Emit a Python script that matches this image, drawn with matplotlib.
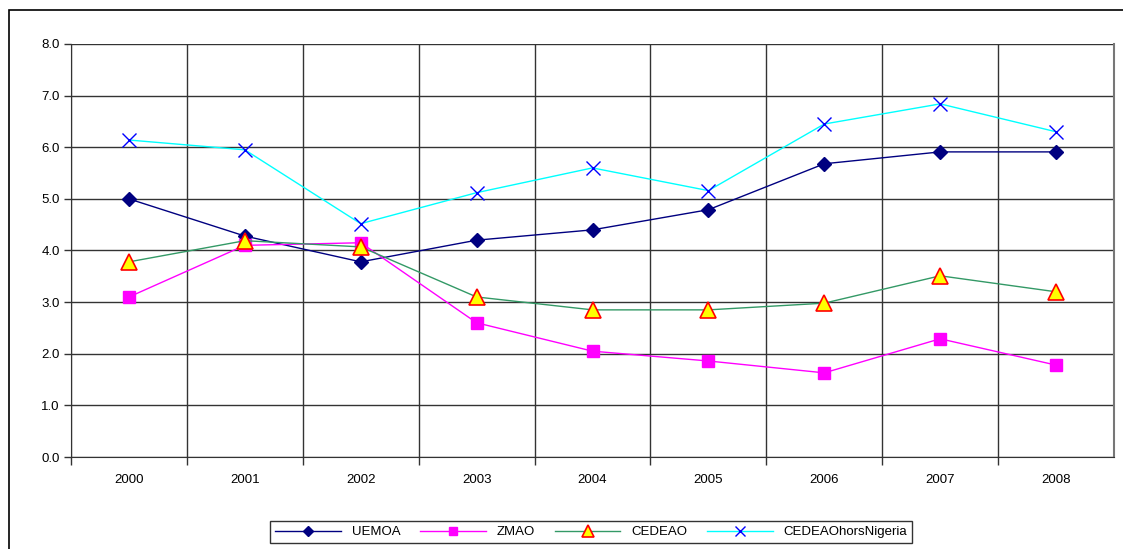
import matplotlib.pyplot as plt
from matplotlib.patches import Rectangle
import numpy as np

plt.rcParams['font.family'] = ['Liberation Sans', 'DejaVu Sans']

years = ['2000', '2001', '2002', '2003', '2004', '2005', '2006', '2007', '2008']
uemoa = [5.0, 4.28, 3.78, 4.2, 4.4, 4.79, 5.68, 5.91, 5.91]
zmao = [3.1, 4.1, 4.15, 2.6, 2.05, 1.86, 1.63, 2.29, 1.78]
cedeao = [3.78, 4.19, 4.07, 3.1, 2.85, 2.85, 2.98, 3.51, 3.2]
hors_nigeria = [6.14, 5.95, 4.52, 5.12, 5.6, 5.16, 6.45, 6.84, 6.3]

fig = plt.figure(figsize=(11.23, 5.49), dpi=100)
# outer chart frame (right and bottom edges fall outside the picture)
fig.patches.append(Rectangle((9/1123, -0.05), 1.1, 1 - 10/549 + 0.05,
                             transform=fig.transFigure, fill=False,
                             edgecolor='black', linewidth=1.2))

ax = fig.add_axes([71/1123, 1 - 457/549, (1114-71)/1123, (457-44)/549])
x = np.arange(len(years))

ax.plot(x, uemoa, color='#000080', lw=1, marker='D', ms=7,
        mfc='#000080', mec='#000080', label='UEMOA', zorder=5)
ax.plot(x, zmao, color='#FF00FF', lw=1, marker='s', ms=8,
        mfc='#FF00FF', mec='#FF00FF', label='ZMAO', zorder=5)
ax.plot(x, cedeao, color='#339966', lw=1, marker='^', ms=11,
        mfc='#FFFF00', mec='#FF0000', mew=1.2, label='CEDEAO', zorder=6)
ax.plot(x, hors_nigeria, color='#00FFFF', lw=1, marker='x', ms=10,
        mec='#0000FF', mew=1, label='CEDEAOhorsNigeria', zorder=5)

ax.set_xlim(-0.5, len(years) - 0.5)
ax.set_ylim(0, 8)
ax.set_yticks(np.arange(0, 9, 1))
ax.set_yticklabels(['%.1f' % v for v in np.arange(0, 9, 1)])
ax.set_xticks(x)
ax.set_xticklabels(years)
ax.set_xticks(np.arange(-0.5, len(years) - 0.5), minor=True)
ax.tick_params(axis='x', which='major', length=0, pad=12, labelsize=9.5)
ax.tick_params(axis='x', which='minor', length=6, width=1, color='#333333')
ax.tick_params(axis='y', length=5, width=1, color='#333333', labelsize=9.5, pad=3)
ax.grid(True, axis='y', which='major', color='#333333', lw=1)
ax.grid(True, axis='x', which='minor', color='#333333', lw=1)
ax.spines['top'].set_visible(False)
ax.spines['right'].set_color('#777777')
ax.spines['right'].set_linewidth(1.5)
ax.spines['left'].set_color('#333333')
ax.spines['bottom'].set_color('#333333')

leg = fig.legend(loc='center', bbox_to_anchor=(591/1123, 1 - 532/549), ncol=4,
                 frameon=True, fancybox=False, edgecolor='black',
                 fontsize=9.5, handlelength=5, columnspacing=1.5,
                 borderpad=0.4, markerscale=0.75)
leg.get_frame().set_linewidth(1)

fig.savefig('out.png', dpi=100)
